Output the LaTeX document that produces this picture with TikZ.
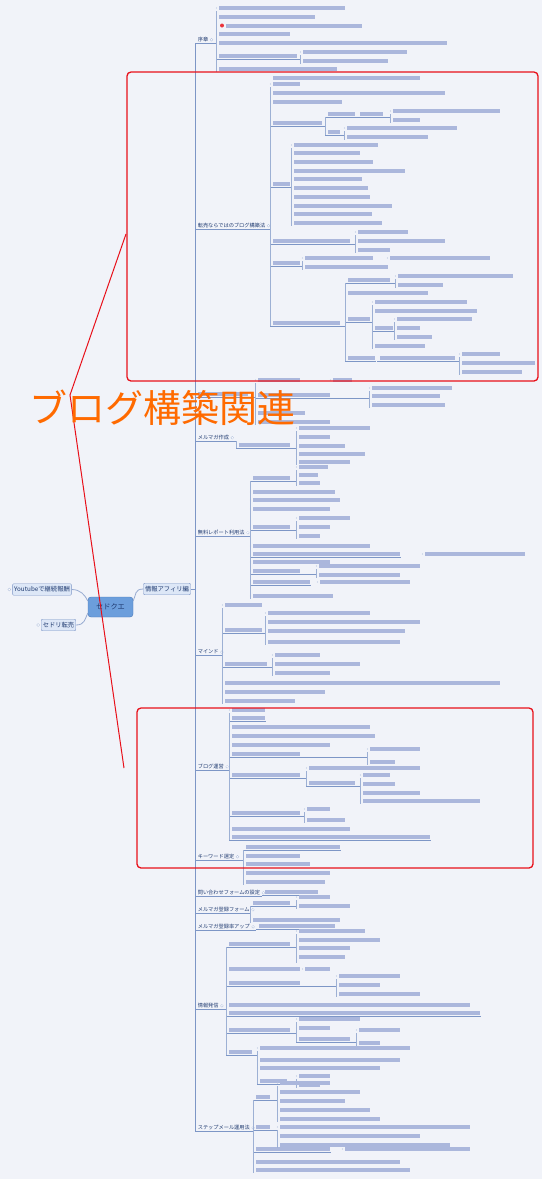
\documentclass[tikz,border=0pt]{standalone}
\usepackage{fontspec}
\newfontfamily\jpfont{Noto Sans CJK JP}
\usetikzlibrary{positioning}
\definecolor{bgcol}{HTML}{F1F3F9}
\definecolor{lncol}{HTML}{7D96C6}
\definecolor{txcol}{HTML}{1F3A70}
\definecolor{barcol}{HTML}{ABB7DC}
\definecolor{redcol}{HTML}{E8101A}
\definecolor{orgcol}{HTML}{FF6A00}
\definecolor{ctrfill}{HTML}{6C9EDC}
\definecolor{ctrdraw}{HTML}{4A78B8}
\definecolor{sidefill}{HTML}{DDE7F7}
\tikzstyle{root_node} = [rounded corners=3pt, draw=ctrdraw, fill=ctrfill, text=txcol, font=\jpfont\fontsize{7.2}{8}\selectfont, minimum width=45pt, minimum height=20pt, inner sep=0pt]
\tikzstyle{main_node} = [rounded corners=1pt, draw=lncol, fill=sidefill, text=txcol, font=\jpfont\fontsize{6.3}{7}\selectfont, minimum height=11.5pt, inner xsep=1.5pt, inner ysep=0pt]
\tikzstyle{cat_node} = [anchor=south west, inner sep=0.6pt, font=\jpfont\fontsize{5.2}{6}\selectfont, text=txcol]
\tikzstyle{marker} = [draw=lncol!60, fill=white, line width=0.3pt]
\tikzstyle{edge_curve} = [draw=lncol!80, line width=0.8pt]
\tikzstyle{edge_line} = [draw=lncol, line width=0.5pt]
\tikzstyle{edge_thin} = [draw=lncol!75, line width=0.4pt]
\tikzstyle{red_mark} = [draw=redcol, line width=1.3pt]
\tikzstyle{big_label} = [inner sep=0pt, text=orgcol, font=\jpfont\fontsize{38}{40}\selectfont]
% leaf: start, y, end of text, end of underline (same end = plain leaf)
\newcommand{\lfp}[4]{\fill[barcol] (#1,#2-2) rectangle (#3,#2+1.5);
  \ifnum#3=#4\relax \fill[lncol!55] (#1-2.5,#2) circle (0.6);
  \else \draw[edge_line] (#1-3,#2+3) -- (#4,#2+3); \fi}
\newcommand{\br}[3]{\draw[edge_thin] (#1,#2) -- (#1,#3);}

\begin{document}
\begin{tikzpicture}[x=1pt, y=-1pt]
\fill[bgcol] (0,0) rectangle (542,1179);
\useasboundingbox (0,0) rectangle (542,1179);

% centre and main branches
\node (ctr) at (110.5,607) [root_node] {セドクエ};
\node (yt) at (42,589.5) [main_node] {Youtubeで継続報酬};
\node (sedori) at (58.5,625) [main_node] {セドリ転売};
\node (info) at (167,589) [main_node] {情報アフィリ編};
\draw[marker] ([xshift=-3pt]yt.west) circle (1.5);
\draw[marker] ([xshift=-3pt]sedori.west) circle (1.5);
\draw[edge_curve] (yt.east) .. controls +(9,0) and +(-3,-6) .. (ctr.165);
\draw[edge_curve] (sedori.east) .. controls +(9,0) and +(-3,6) .. (ctr.195);
\draw[edge_curve] (info.west) .. controls +(-9,0) and +(3,-6) .. (ctr.15);

% trunk and sections
\coordinate (trk) at (195,589);
\node (s1) at (197,43) [cat_node] {序章};
\node (s2) at (197,229) [cat_node] {転売ならではのブログ構築法};
\node (s4) at (197,441) [cat_node] {メルマガ作成};
\node (s5) at (197,536) [cat_node] {無料レポート利用法};
\node (s6) at (197,655) [cat_node] {マインド};
\node (s7) at (197,770) [cat_node] {ブログ運営};
\node (s8) at (197,860) [cat_node] {キーワード選定};
\node (s9) at (197,896) [cat_node] {問い合わせフォームの設定};
\node (s10) at (197,913) [cat_node] {メルマガ登録フォーム};
\node (s11) at (197,930) [cat_node] {メルマガ登録率アップ};
\node (s12) at (197,1009) [cat_node] {情報発信};
\node (s13) at (197,1131) [cat_node] {ステップメール運用法};
\draw[edge_line, line width=0.8pt] (s1.south -| trk) -- (s13.south -| trk);
\draw[edge_line, line width=0.8pt] (info.east) -- (info.east -| trk);
\foreach \s/\e in {s1/216, s2/270, s4/236, s5/250, s6/222, s7/229, s8/243, s9/262, s10/250, s11/256, s12/226, s13/253} {
  \draw[edge_line] (\s.south -| trk) -- (\e,0 |- \s.south);
  \draw[marker] ([xshift=2.5pt]\s.east) circle (1.4);
}
% unreadable section title
\lfp{198}{394}{248}{255}
\draw[edge_line] (trk |- 0,397) -- (198,397);

% leaves
\foreach \a/\b/\c/\d in {219/8/345/345, 219/17/315/315, 226/26/362/362, 219/34/290/290, 219/43/447/447, 219/56/297/300, 219/69/337/337,
  303/52/407/407, 303/61/388/388} {\lfp{\a}{\b}{\c}{\d}}
\fill[redcol!85] (222,25.5) circle (2);
\br{216}{11}{72} \br{300}{55}{64}

\fill[barcol] (273,76) rectangle (420,79.5);
\foreach \a/\b/\c/\d in {273/84/300/300, 273/93/445/445, 273/102/342/342, 273/123/322/325, 273/184/290/291, 273/241/350/355, 273/263/300/302, 273/323/340/345,
  328/114/355/390, 360/114/383/390, 393/111/500/500, 393/120/420/420, 328/132/340/344, 347/128/457/457, 347/137/428/428,
  294/145/378/378, 294/153/360/360, 294/162/373/373, 294/171/405/405, 294/179/362/362, 294/188/368/368, 294/197/370/370, 294/206/392/392, 294/214/372/372, 294/223/382/382,
  358/232/408/408, 358/241/445/445, 358/250/390/390, 305/258/373/373, 390/258/490/490, 305/267/388/388,
  348/280/390/395, 398/276/513/513, 398/285/443/443, 348/293/428/428, 348/319/370/372,
  375/302/467/467, 375/311/477/477, 375/328/393/394, 375/346/425/425, 397/319/472/472, 397/328/420/420, 397/337/432/432,
  348/358/375/376, 380/358/455/459, 462/354/500/500, 462/363/535/535, 462/372/522/522} {\lfp{\a}{\b}{\c}{\d}}
\br{270}{87}{326} \br{325}{117}{135} \br{390}{114}{123} \br{344}{131}{140} \br{291}{148}{226}
\br{355}{235}{253} \br{302}{261}{270} \br{345}{283}{361} \br{395}{279}{288} \br{372}{305}{349}
\br{394}{322}{340} \br{459}{357}{375}

\foreach \a/\b/\c/\d in {258/380/300/300, 333/380/352/352, 258/395/330/369, 258/413/305/305, 258/422/330/330,
  372/388/452/452, 372/396/440/440, 372/405/445/445} {\lfp{\a}{\b}{\c}{\d}}
\br{255}{383}{425} \br{369}{391}{408}

\foreach \a/\b/\c/\d in {239/445/290/296, 299/428/370/370, 299/437/330/330, 299/446/345/345, 299/454/365/365, 299/462/350/350} {\lfp{\a}{\b}{\c}{\d}}
\br{236}{441}{448} \br{296}{431}{465}

\foreach \a/\b/\c/\d in {253/478/290/296, 299/467/328/328, 299/475/318/318, 299/483/320/320,
  253/492/335/335, 253/500/340/340, 253/509/330/330,
  253/527/290/296, 299/518/350/350, 299/527/330/330, 299/536/320/320,
  253/546/370/370, 253/554/400/401, 425/554/525/525, 253/562/330/330,
  253/571/300/316, 319/566/420/420, 319/575/400/400,
  253/582/310/311, 320/582/410/410, 253/596/333/333} {\lfp{\a}{\b}{\c}{\d}}
\br{250}{481}{599} \br{296}{470}{486} \br{296}{521}{539} \br{316}{569}{578}

\foreach \a/\b/\c/\d in {225/605/262/262, 225/630/262/265, 268/613/370/370, 268/622/420/420, 268/631/405/405, 268/642/400/400,
  225/664/267/272, 275/655/320/320, 275/664/360/360, 275/673/330/330,
  225/683/500/500, 225/692/325/325, 225/701/295/295} {\lfp{\a}{\b}{\c}{\d}}
\br{222}{608}{704} \br{265}{616}{645} \br{272}{658}{676}

\foreach \a/\b/\c/\d in {232/710/265/265, 232/718/265/266, 232/727/370/370, 232/736/375/375, 232/745/330/330,
  232/754/300/367, 370/749/420/420, 370/762/395/395,
  232/775/300/306, 309/768/420/420, 309/783/355/360, 363/775/390/390, 363/784/395/395, 363/793/420/420, 363/801/480/480,
  232/813/300/304, 307/809/330/330, 307/820/345/345,
  232/829/350/350, 232/837/430/431} {\lfp{\a}{\b}{\c}{\d}}
\br{229}{713}{840} \br{367}{752}{765} \br{306}{771}{786} \br{360}{778}{804} \br{304}{812}{823}

\foreach \a/\b/\c/\d in {246/847/340/341, 246/856/300/300, 246/864/310/310, 246/873/330/330, 246/882/325/325,
  265/892/318/319,
  253/903/290/296, 299/897/330/330, 299/906/350/350, 253/920/340/340,
  259/926/335/336} {\lfp{\a}{\b}{\c}{\d}}
\br{243}{850}{885} \br{250}{906}{923} \br{296}{900}{909}

\foreach \a/\b/\c/\d in {229/944/290/296, 299/931/365/365, 299/940/380/380, 299/948/350/350, 299/957/345/345,
  229/969/300/300, 305/969/330/330,
  229/983/300/336, 339/976/400/400, 339/985/380/380, 339/994/420/420,
  229/1005/470/470, 229/1013/480/481,
  229/1030/290/296, 299/1019/360/360, 299/1028/330/330, 299/1039/350/356, 359/1030/400/400, 359/1043/380/380,
  229/1052/252/257, 260/1048/410/410, 260/1060/400/400, 260/1068/380/380, 260/1081/287/296,
  299/1076/330/330, 299/1085/320/320} {\lfp{\a}{\b}{\c}{\d}}
\br{226}{947}{1055} \br{296}{934}{963} \br{336}{979}{997} \br{296}{1022}{1042} \br{356}{1033}{1046}
\br{257}{1051}{1084} \br{296}{1079}{1088}

\foreach \a/\b/\c/\d in {256/1097/270/277, 280/1083/330/330, 280/1092/360/360, 280/1101/345/345, 280/1110/370/370, 280/1119/380/380,
  256/1127/270/277, 280/1136/420/420, 280/1145/450/450, 280/1127/470/470,
  256/1149/330/331, 345/1149/470/470, 256/1162/400/400, 256/1170/410/410} {\lfp{\a}{\b}{\c}{\d}}
\br{253}{1100}{1173} \br{277}{1086}{1122} \br{277}{1130}{1148}

% highlight
\draw[red_mark, rounded corners=4pt] (127,72) rectangle (538,381);
\draw[red_mark, rounded corners=4pt] (137,708) rectangle (533,868);
\coordinate (p1) at (126,234);
\coordinate (p2) at (70,395);
\coordinate (p3) at (124,768);
\draw[red_mark, line width=1pt] (p1) -- (p2) -- (p3);
\node (tag) at (163,408) [big_label] {ブログ構築関連};
\end{tikzpicture}
\end{document}
